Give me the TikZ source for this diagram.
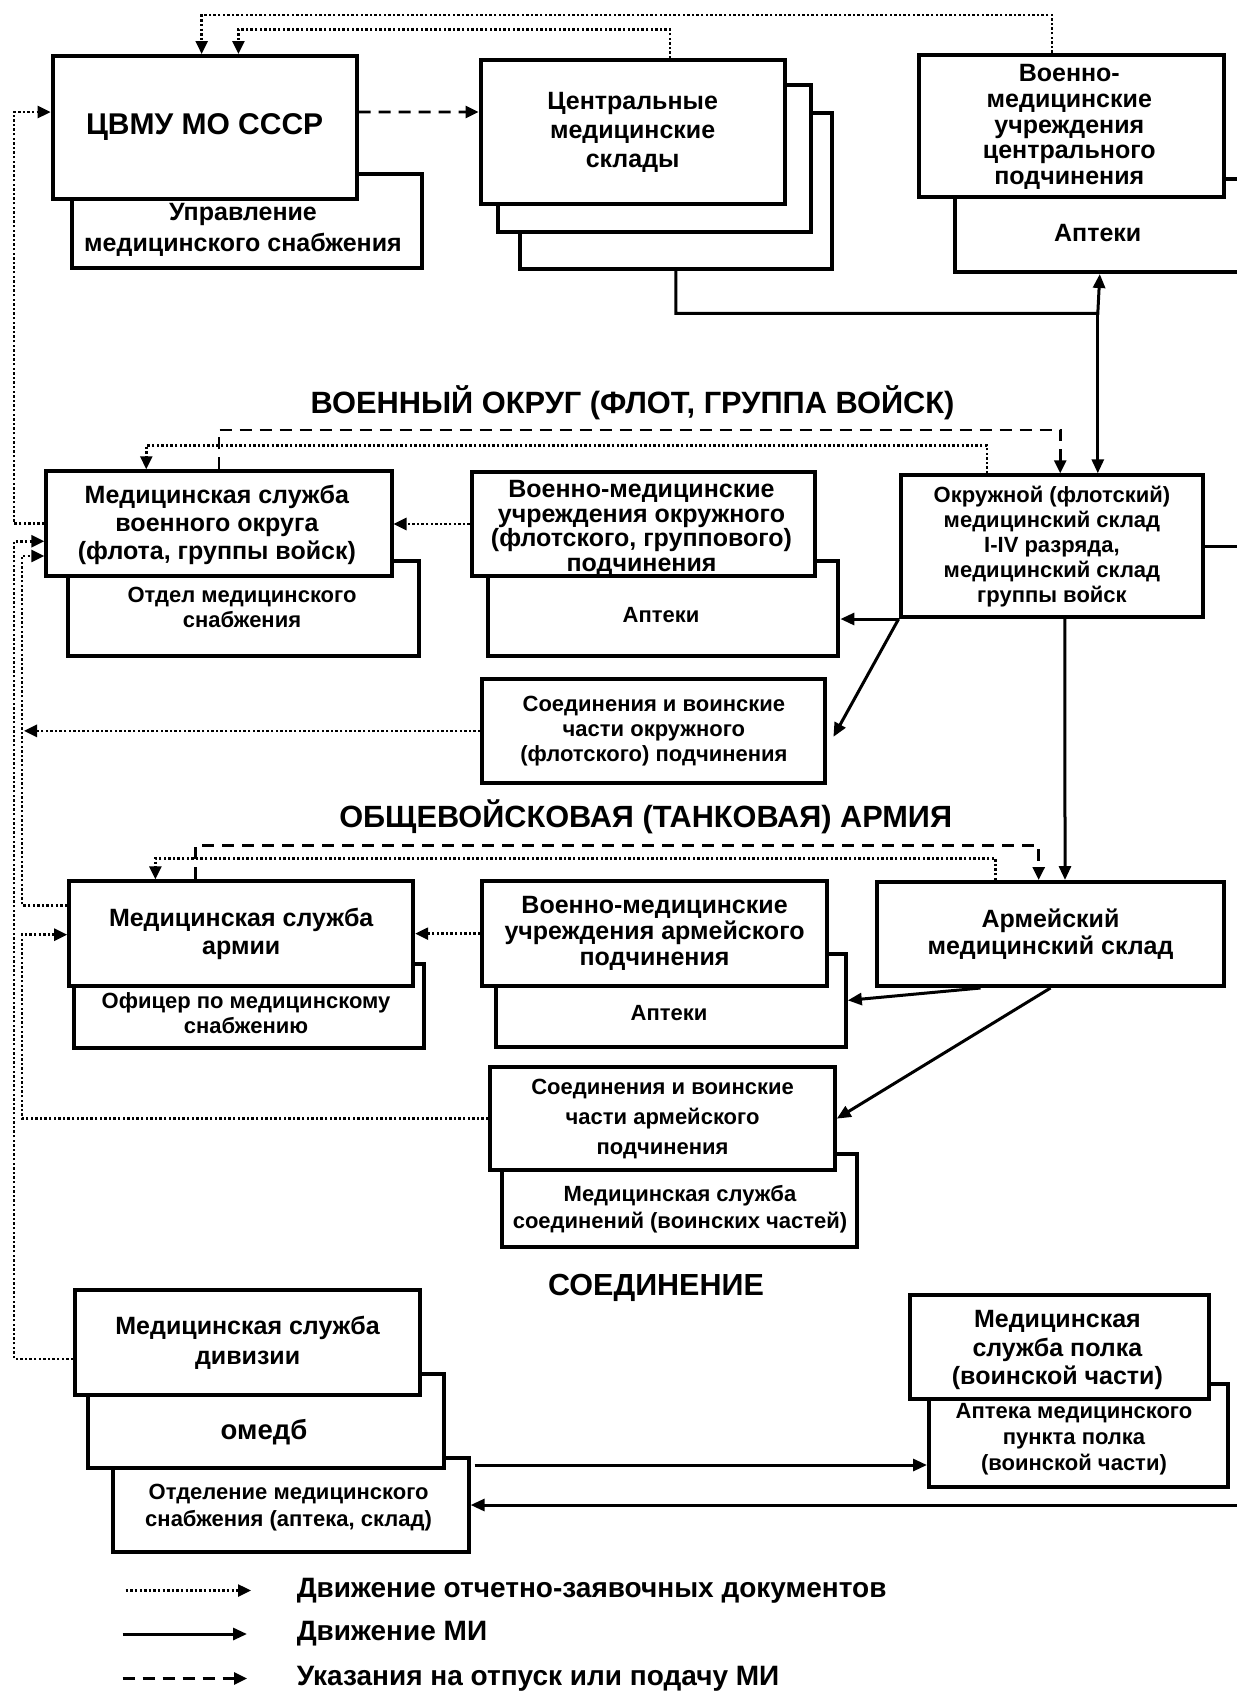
\documentclass[tikz,border=0pt]{standalone}
\usepackage{fontspec}
\setmainfont{Liberation Sans}
\usetikzlibrary{arrows.meta,positioning,calc}
\definecolor{chartInk}{RGB}{0,0,0}
\definecolor{chartPaper}{RGB}{255,255,255}
\tikzset{
  unit/.style={draw=chartInk, line width=4pt, fill=chartPaper, inner sep=0pt, anchor=north west, align=center, text=chartInk},
  caption/.style={inner sep=0pt, align=center, text=chartInk},
  txt/.style 2 args={font=\bfseries\fontsize{#1}{#2}\selectfont},
  docflow/.style={draw=chartInk, line width=2.6pt, dash pattern=on 2.4pt off 2.2pt, -{Triangle[length=13pt,width=12pt]}},
  goodsline/.style={draw=chartInk, line width=3pt},
  goodsflow/.style={goodsline, -{Triangle[length=14pt,width=12pt]}},
  orderflow/.style={draw=chartInk, line width=2.7pt, dash pattern=on 12pt off 8pt, -{Triangle[length=13pt,width=12pt]}}
}

\begin{document}
\begin{tikzpicture}[x=1pt, y=-1pt]
  \useasboundingbox (0,0) rectangle (1237,1695);
  \coordinate (rim) at (1240,0);

  \node[unit, minimum width=349.6pt, minimum height=94.3pt] (uprav) at (70.4,171.7) {};
  \node[unit, minimum width=304.1pt, minimum height=142.7pt, txt={30}{34}] (cvmu) at (50.6,54) {ЦВМУ МО СССР};
  \node[caption, txt={25}{31}] (upravtext) at (243,229.5) {Управление\\медицинского снабжения};

  \node[unit, minimum width=311.5pt, minimum height=156pt] (stock3) at (518,110.7) {};
  \node[unit, minimum width=313pt, minimum height=146.7pt] (stock2) at (496,83.3) {};
  \node[unit, minimum width=304.3pt, minimum height=143.4pt, txt={25}{29}] (stock1) at (478.5,58.3) {Центральные\\медицинские\\склады};

  \node[unit, minimum width=290.4pt, minimum height=93.3pt] (aptc) at (952.6,176.7) {};
  \node[unit, minimum width=304.6pt, minimum height=142.3pt, txt={25}{25.8}] (vmuc) at (917,52.7) {};
  \node[caption, txt={25}{25.8}] (vmuctext) at (1069.3,127) {Военно-\\медицинские\\учреждения\\центрального\\подчинения};
  \node[caption, txt={25}{28}] (aptctext) at (1097.7,233) {Аптеки};

  \draw[docflow] ($(stock1.north)+(37.4,0)$) -- ++(0,-29) -| ($(cvmu.north)+(33.8,0)$);
  \draw[docflow] ($(vmuc.north)+(-19.3,0)$) -- ++(0,-37.7) -| ($(cvmu.north)+(-3,0)$);
  \draw[orderflow] ($(cvmu.east)+(0,-15.3)$) -- ($(stock1.west)+(0,-20)$);

  \coordinate (hub) at (1097.8,313.3);
  \draw[goodsflow] (stock3.south) |- (hub) -- (aptc.south);

  \node[caption, txt={30.8}{34}] (levelokrug) at (632.5,403) {ВОЕННЫЙ ОКРУГ (ФЛОТ, ГРУППА ВОЙСК)};

  \node[unit, minimum width=350.6pt, minimum height=95pt] (otdel) at (66.4,559) {};
  \node[unit, minimum width=345.2pt, minimum height=104.7pt] (msvo) at (44.3,469.3) {};
  \node[caption, txt={25}{28.3}] (msvotext) at (216.9,525) {Медицинская служба\\военного округа\\(флота, группы войск)};
  \node[caption, txt={22}{25}] (otdeltext) at (242,607.5) {Отдел медицинского\\снабжения};

  \node[unit, minimum width=350pt, minimum height=95pt] (apto) at (486.4,559) {};
  \node[unit, minimum width=343.6pt, minimum height=104pt] (vmuo) at (469.7,470) {};
  \node[caption, txt={25}{24.5}] (vmuotext) at (641.5,528.5) {Военно-медицинские\\учреждения окружного\\(флотского, группового)\\подчинения};
  \node[caption, txt={22}{25}] (aptotext) at (661,615) {Аптеки};

  \node[unit, minimum width=302.7pt, minimum height=141.7pt, txt={22}{25}] (okr) at (898.6,473.3) {Окружной (флотский)\\медицинский склад\\I-IV разряда,\\медицинский склад\\группы войск};
  \node[unit, minimum width=343pt, minimum height=104.3pt, txt={22}{25}] (soedo) at (480.4,676.7) {Соединения и воинские\\части окружного\\(флотского) подчинения};

  \draw[goodsflow] (hub) -- (hub |- okr.north);
  \draw[orderflow] (msvo.north) -- ++(0,-39.3) -| ($(okr.north)+(8.3,0)$);
  \draw[docflow] ($(okr.north)+(-65,0)$) -- ++(0,-27.6) -| ($(msvo.north)+(-72.6,0)$);
  \draw[docflow] (vmuo.west) -- (vmuo.west -| msvo.east);
  \draw[goodsflow] (okr.south west) -- (okr.south west -| apto.east);
  \draw[goodsflow] (okr.south west) -- ($(soedo.east)+(6,6)$);
  \draw[goodsline] (okr.east) -- (okr.east -| rim);

  \node[caption, txt={30.7}{34}] (levelarmy) at (645.7,816.7) {ОБЩЕВОЙСКОВАЯ (ТАНКОВАЯ) АРМИЯ};

  \node[unit, minimum width=350.3pt, minimum height=84.3pt] (ofic) at (72,961.7) {};
  \node[unit, minimum width=344pt, minimum height=104.7pt, txt={25}{28.4}] (msarm) at (67.2,879.3) {Медицинская служба\\армии};
  \node[caption, txt={22}{24.3}] (ofictext) at (246,1013) {Офицер по медицинскому\\снабжению};

  \node[unit, minimum width=350.3pt, minimum height=93.3pt] (apta) at (493.5,951.7) {};
  \node[unit, minimum width=344.3pt, minimum height=104.7pt, txt={25}{26}] (vmua) at (480.4,879.3) {Военно-медицинские\\учреждения армейского\\подчинения};
  \node[caption, txt={22}{25}] (aptatext) at (669,1013.3) {Аптеки};

  \node[unit, minimum width=346.2pt, minimum height=104pt, txt={25}{26.7}] (arm) at (875.4,880) {Армейский\\медицинский склад};

  \node[unit, minimum width=354.9pt, minimum height=93.3pt] (mssoed) at (500.2,1151.7) {};
  \node[unit, minimum width=344.5pt, minimum height=103.3pt, txt={22}{30}] (soedarm) at (488.3,1065) {Соединения и воинские\\части армейского\\подчинения};
  \node[caption, txt={22}{26.6}] (mssoedtext) at (680,1209) {Медицинская служба\\соединений (воинских частей)};

  \draw[orderflow] ($(msarm.north)+(-45.4,0)$) -- ++(0,-33.6) -| ($(arm.north)+(-11.8,0)$);
  \draw[docflow] ($(arm.north)+(-55.2,0)$) -- ++(0,-21.7) -| ($(msarm.north)+(-85.8,0)$);
  \draw[goodsflow] ($(okr.south)+(13,0)$) -- ($(arm.north)+(14.5,0)$);
  \draw[docflow] (vmua.west) -- (vmua.west -| msarm.east);
  \draw[goodsflow] ($(arm.south)+(-70,0)$) -- (apta.east);
  \draw[goodsflow] (arm.south) -- (soedarm.east);

  \node[caption, txt={30.5}{34}] (levelunit) at (656,1288.3) {СОЕДИНЕНИЕ};

  \node[unit, minimum width=355.9pt, minimum height=94pt] (otdelm) at (110.7,1456) {};
  \node[unit, minimum width=355.8pt, minimum height=94.3pt] (omedb) at (86.2,1371.7) {};
  \node[unit, minimum width=344.8pt, minimum height=105pt, txt={25}{29.4}] (div) at (73.2,1288.3) {Медицинская служба\\дивизии};
  \node[caption, txt={27.5}{30}] (omedbtext) at (264,1432.5) {омедб};
  \node[caption, txt={22}{26.7}] (otdelmtext) at (288.6,1507.5) {Отделение медицинского\\снабжения (аптека, склад)};

  \node[unit, minimum width=298.6pt, minimum height=103.3pt] (aptpolk) at (927,1381.7) {};
  \node[unit, minimum width=299.8pt, minimum height=103.4pt] (mspolk) at (907.5,1293.3) {};
  \node[caption, txt={25}{28.3}] (mspolktext) at (1057.4,1350) {Медицинская\\служба полка\\(воинской части)};
  \node[caption, txt={22}{25.8}] (aptpolktext) at (1074,1439) {Аптека медицинского\\пункта полка\\(воинской части)};

  \coordinate (feed) at ($(otdelm.north east)+(4,9)$);
  \draw[goodsflow] (feed) -- (feed -| aptpolk.west);
  \draw[goodsflow] (otdelm.east -| rim) -- (otdelm.east);

  \draw[docflow] (msvo.west) -- ++(-30.3,0) |- ($(cvmu.west)+(0,-15.3)$);
  \draw[docflow] ($(div.west)+(0,16)$) -- ++(-59.2,0) |- ($(msvo.west)+(0,17.6)$);
  \draw[docflow] ($(msarm.west)+(0,-28.4)$) -- ++(-45.2,0) |- ($(msvo.west)+(0,32.3)$);
  \draw[docflow] (soedarm.west) -- ++(-466.3,0) |- ($(msarm.west)+(0,1)$);
  \draw[docflow] (soedo.west) -- ++(-456.4,0);

  \coordinate (keyA) at (125.7,1590.5);
  \coordinate (keyAend) at (251,1590.5);
  \coordinate (keyB) at (122.6,1634);
  \coordinate (keyBend) at (247,1634);
  \coordinate (keyC) at (122.6,1678.5);
  \coordinate (keyCend) at (247,1678.5);
  \draw[docflow] (keyA) -- (keyAend);
  \draw[goodsflow] (keyB) -- (keyBend);
  \draw[orderflow] (keyC) -- (keyCend);
  \node[caption, anchor=west, txt={28}{32}] (keyAtext) at (296.6,1590.5) {Движение отчетно-заявочных документов};
  \node[caption, anchor=west, txt={28}{32}] (keyBtext) at (296.6,1634) {Движение МИ};
  \node[caption, anchor=west, txt={28}{32}] (keyCtext) at (296.6,1678.5) {Указания на отпуск или подачу МИ};
\end{tikzpicture}
\end{document}
